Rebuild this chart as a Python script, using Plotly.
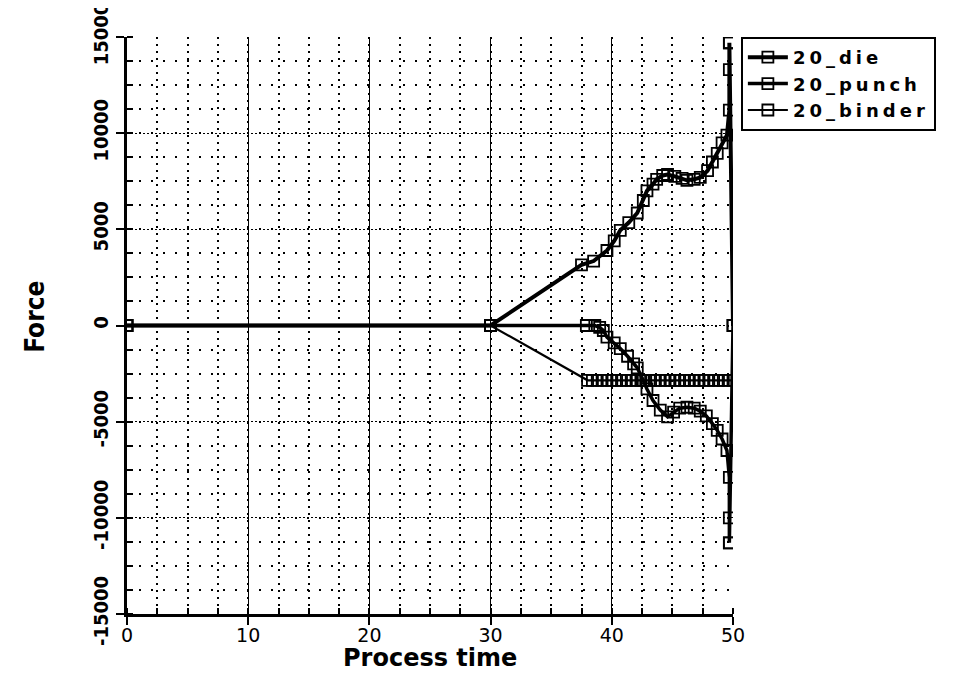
import plotly.graph_objects as go

# ---- data ----
die_x = [0, 30, 37.5, 38.5, 39.6, 40.2, 40.7, 41.4, 42.1, 42.6, 42.9, 43.4, 43.7, 44.2, 44.6, 45.2,
         45.8, 46.2, 46.8, 47.3, 47.9, 48.3, 48.7, 49.1, 49.5, 49.7, 49.7, 49.7, 49.7, 50.0]
die_y = [0, 0, 3150, 3350, 3900, 4400, 4950, 5350, 5850, 6500, 7000, 7350, 7600, 7800, 7850, 7750,
         7650, 7550, 7600, 7700, 8050, 8500, 8950, 9500, 9900, 11200, 13300, 14700, 14700, 0]

punch_x = [0, 30, 37.9, 38.6, 39.0, 39.3, 39.6, 40.2, 40.7, 41.3, 41.8, 42.1, 42.6, 42.9, 43.4, 44.0,
           44.6, 45.1, 45.6, 46.2, 46.8, 47.3, 47.8, 48.3, 48.7, 49.1, 49.5, 49.7, 49.7, 49.7, 49.7, 50.0]
punch_y = [0, 0, 0, 0, -100, -260, -600, -900, -1200, -1600, -2000, -2200, -2860, -3300, -3900, -4400,
           -4750, -4500, -4300, -4250, -4300, -4450, -4700, -5100, -5450, -5900, -6500, -7900, -10000, -11300, -11300, 0]

binder_x = [0, 30, 38.0, 38.4, 38.8, 39.2, 39.6, 40.0, 40.4, 40.8, 41.2, 41.6, 42.0, 42.4, 42.8, 43.2,
            43.6, 44.0, 44.4, 44.8, 45.2, 45.6, 46.0, 46.4, 46.8, 47.2, 47.6, 48.0, 48.4, 48.8, 49.2,
            49.6, 50.0]
binder_y = [0, 0, -2850, -2850, -2850, -2850, -2850, -2850, -2850, -2850, -2850, -2850, -2850, -2850,
            -2850, -2850, -2850, -2850, -2850, -2850, -2850, -2850, -2850, -2850, -2850, -2850, -2850,
            -2850, -2850, -2850, -2850, -2850, -2850]

series_names = ["20_die", "20_punch", "20_binder"]
x_ticks = [0, 10, 20, 30, 40, 50]
y_ticks = [-15000, -10000, -5000, 0, 5000, 10000, 15000]
x_title = "Process time"
y_title = "Force"

fig = go.Figure()
specs = [(die_x, die_y, series_names[0], 4),
         (punch_x, punch_y, series_names[1], 3.5),
         (binder_x, binder_y, series_names[2], 2.2)]
for xs, ys, nm, w in specs:
    fig.add_trace(go.Scatter(
        x=xs, y=ys, name=f'<span style="letter-spacing:4px">{nm}</span>', mode="lines+markers",
        line=dict(color="black", width=w),
        marker=dict(symbol="square-open", size=11, color="black", line=dict(width=1.8)),
    ))

# body has an 8px margin in the page, so the figure is placed 8px right/down
L, T, PW, PH = 119, 29, 606, 577
fig.update_layout(
    width=965, height=682,
    paper_bgcolor="white", plot_bgcolor="white",
    margin=dict(l=L, r=965 - L - PW, t=T, b=682 - T - PH, autoexpand=False),
    showlegend=True,
    legend=dict(
        x=1.013, y=1.0, xanchor="left", yanchor="top",
        bordercolor="black", borderwidth=2, bgcolor="white",
        font=dict(family="DejaVu Sans", size=18, color="black", weight="bold"),
        tracegroupgap=0, itemwidth=40,
    ),
    annotations=[
        dict(text=f"<b>{x_title}</b>", xref="paper", yref="paper", x=0.5, y=-(650 - (T + PH)) / PH,
             xanchor="center", yanchor="middle", showarrow=False,
             font=dict(family="DejaVu Sans", size=24, color="black")),
        dict(text=f"<b>{y_title}</b>", xref="paper", yref="paper", x=(27 - L) / PW, y=0.515,
             xanchor="center", yanchor="middle", showarrow=False, textangle=-90,
             font=dict(family="DejaVu Sans Condensed", size=26, color="black")),
    ],
)

fig.update_xaxes(
    range=[0, 50], tickvals=x_ticks, ticktext=[str(v) for v in x_ticks],
    automargin=False, ticklabelstandoff=-6, ticklabeloverflow="allow",
    showline=True, linecolor="black", linewidth=2.5,
    ticks="outside", ticklen=8, tickwidth=2, tickcolor="black",
    showgrid=True, gridcolor="black", gridwidth=1.2,
    zeroline=False,
    minor=dict(dtick=2.5, showgrid=True, gridcolor="black", griddash="2px,5px", gridwidth=1.6,
               ticks="inside", ticklen=6, tickcolor="black", tickwidth=1.5),
    tickfont=dict(family="DejaVu Sans", size=19, color="black"),
)
fig.update_yaxes(
    range=[-15000, 15000], tickvals=y_ticks, ticktext=[str(v) for v in y_ticks],
    tickangle=-90, automargin=False, ticklabeloverflow="allow",
    showline=True, linecolor="black", linewidth=2.5,
    ticks="outside", ticklen=8, tickwidth=2, tickcolor="black",
    showgrid=True, gridcolor="black", gridwidth=1.3, griddash="2px,2px",
    zeroline=False,
    minor=dict(dtick=1250, showgrid=True, gridcolor="black", griddash="2px,10px", gridwidth=1.6,
               ticks="inside", ticklen=6, tickcolor="black", tickwidth=1.5),
    tickfont=dict(family="DejaVu Sans Condensed", size=20, color="black", weight="bold"),
)

fig.write_html("out.html")
